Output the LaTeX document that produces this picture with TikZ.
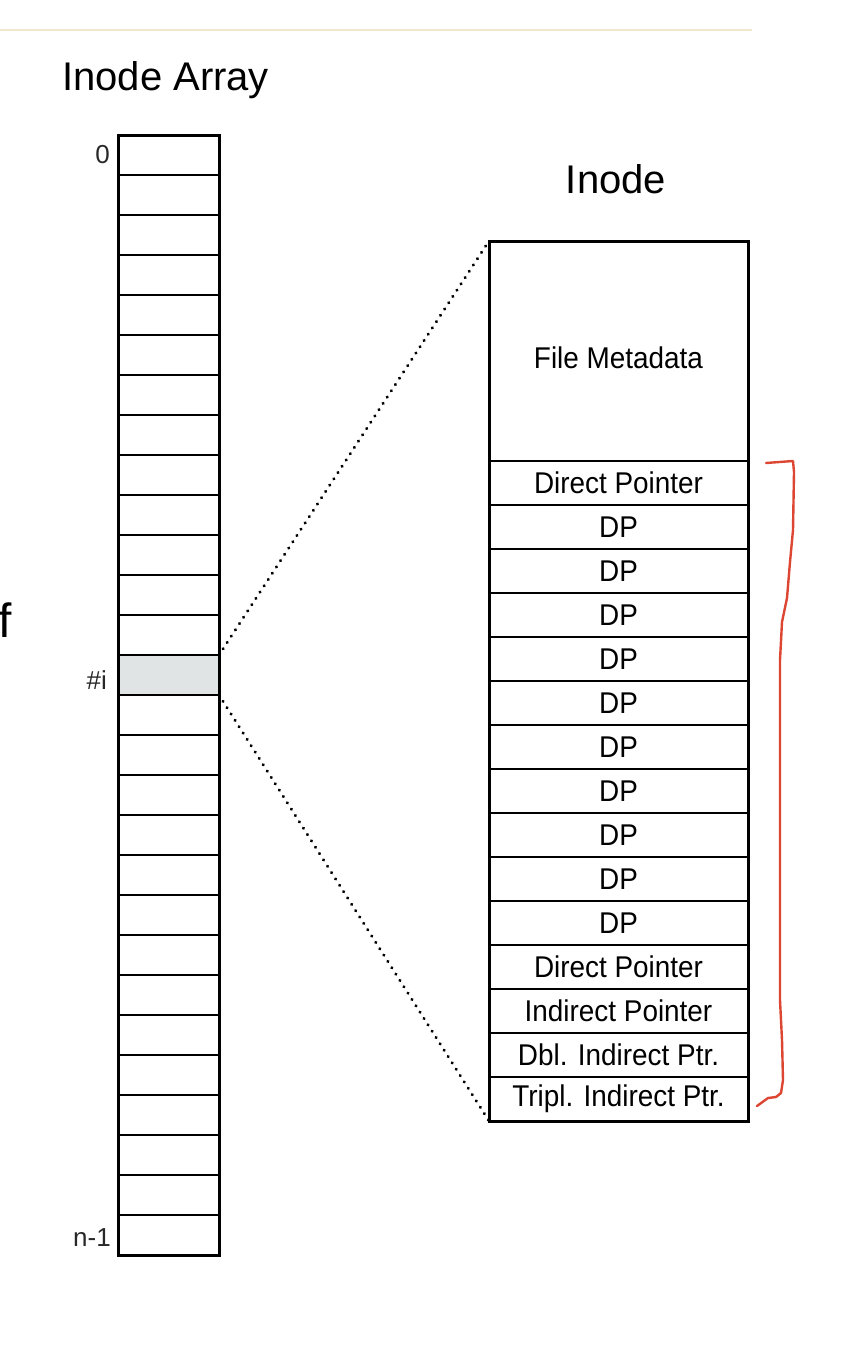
\documentclass[tikz,border=0pt]{standalone}
\usepackage{fontspec}
\setmainfont{Liberation Sans}
\newfontfamily\condfont[FakeStretch=0.93]{Liberation Sans}
\definecolor{topline}{RGB}{240,231,204}
\definecolor{shade}{RGB}{225,228,228}
\definecolor{bracketred}{RGB}{220,70,50}
\definecolor{idxgray}{RGB}{40,40,40}
\begin{document}
\begin{tikzpicture}[x=1pt,y=-1pt,
  cell/.style={draw=black, line width=1.8pt, minimum width=101pt, minimum height=40pt, inner sep=0pt, outer sep=0pt, anchor=north west},
  irow/.style={draw=black, line width=1.8pt, minimum width=259pt, minimum height=44pt, inner sep=0pt, outer sep=0pt, anchor=north west, font=\condfont\fontsize{30}{32}\selectfont},
  title/.style={font=\fontsize{40}{44}\selectfont, inner sep=0pt},
  idx/.style={font=\fontsize{26}{28}\selectfont, text=idxgray, inner sep=0pt, anchor=east},
  zoomline/.style={line width=3.4pt, line cap=round, dash pattern=on 0.01pt off 7.5pt},
  outline/.style={draw=black, line width=3pt}
]
\useasboundingbox (0,0) rectangle (844,1354);
% top rule
\draw[topline, line width=1.5pt] (0,30) -- (752,30);
% titles
\node[title, anchor=base west] (t1) at (62,90) {Inode Array};
\node[title, anchor=base] (t2) at (616,193) {Inode};
% inode array
\foreach \k in {0,...,27}{
  \ifnum\k=13
    \node[cell, fill=shade] (a\k) at (118,{135+40*\k}) {};
  \else
    \node[cell] (a\k) at (118,{135+40*\k}) {};
  \fi
}
\draw[outline] (a0.north west) rectangle (a27.south east);
\node[idx] (l0) at (110,155) {0};
\node[idx] (li) at (107,680) {\#i};
\node[idx] (ln) at (111,1238) {n-1};
\node[font=\fontsize{48}{50}\selectfont, inner sep=0pt, anchor=base west] (f) at (-2,637) {f};
% inode
\node[irow, minimum height=220pt] (meta) at (489,241) {\raisebox{-17pt}[0pt][0pt]{File Metadata}};
\node[irow] (r1) at (489,461) {Direct Pointer};
\foreach \k in {2,...,11}{
  \node[irow] (r\k) at (489,{461+44*(\k-1)}) {DP};
}
\node[irow] (r12) at (489,{461+44*11}) {Direct Pointer};
\node[irow] (r13) at (489,{461+44*12}) {Indirect Pointer};
\node[irow] (r14) at (489,{461+44*13}) {Dbl. Indirect Ptr.};
\node[irow] (r15) at (489,{461+44*14}) {Tripl. Indirect Ptr.};
\draw[outline] (meta.north west) rectangle (r15.south east);
% zoom lines
\draw[zoomline] (a13.north east) -- (meta.north west);
\draw[zoomline] (a13.south east) -- (r15.south west);
% red bracket
\draw[bracketred, line width=2.4pt, line join=round, line cap=round]
  (766,463) -- (793,461) -- (794,472) -- (793,530) -- (790,562) -- (787,598)
  -- (782,622) -- (780,660) -- (780,1000) -- (782,1040) -- (783,1080)
  -- (781,1093) -- (776,1097) -- (768,1098) -- (757,1106);
\end{tikzpicture}
\end{document}
